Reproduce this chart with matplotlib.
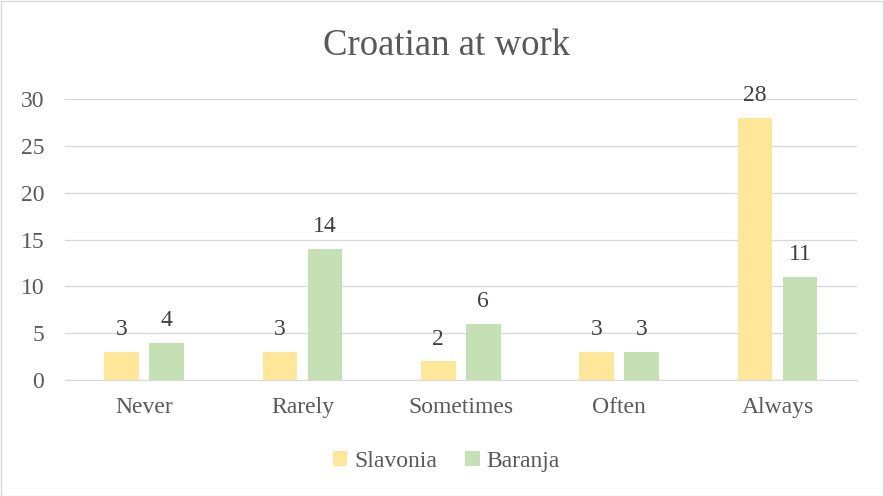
#!/usr/bin/env python3
"""Grouped bar chart: Croatian at work."""

import matplotlib
matplotlib.use("Agg")
import matplotlib.pyplot as plt
import numpy as np

categories = ["Never", "Rarely", "Sometimes", "Often", "Always"]
slavonia = [3, 3, 2, 3, 28]
baranja = [4, 14, 6, 3, 11]
yticks = [0, 5, 10, 15, 20, 25, 30]

YELLOW = "#FFE699"
GREEN = "#C5E0B4"
TEXT = "#595959"
LABEL = "#404040"
GRID = "#D9D9D9"

plt.rcParams["font.family"] = "serif"
plt.rcParams["font.serif"] = ["Liberation Serif", "Times New Roman", "DejaVu Serif"]

fig = plt.figure(figsize=(8.84, 4.96), dpi=100)
fig.patches.append(plt.Rectangle((0.001, 0.001), 0.998, 0.997, transform=fig.transFigure,
                                 fill=False, edgecolor="#D9D9D9", linewidth=1))
ax = fig.add_axes([0.0735, 0.234, 0.8955, 0.566])

x = np.arange(len(categories))
width = 0.22
off = 0.142
b1 = ax.bar(x - off, slavonia, width, color=YELLOW, label="Slavonia", zorder=3)
b2 = ax.bar(x + off, baranja, width, color=GREEN, label="Baranja", zorder=3)

# labels sit ~17 px above the bar top (baseline)
for bars in (b1, b2):
    for rect in bars:
        h = rect.get_height()
        ax.annotate(f"{h:g}", (rect.get_x() + rect.get_width() / 2, h),
                    xytext=(0, 12), textcoords="offset points",
                    ha="center", va="baseline", fontsize=17, color=LABEL)

ax.set_xlim(-0.5, len(categories) - 0.5)
ax.set_ylim(0, 30)
ax.set_yticks(yticks)
ax.set_xticks(x)
ax.set_xticklabels(categories)
ax.tick_params(axis="both", length=0, labelsize=17, labelcolor=TEXT)
ax.tick_params(axis="y", pad=15)
ax.tick_params(axis="x", pad=12)
ax.yaxis.grid(True, color=GRID, linewidth=1, zorder=0)
for side in ("top", "right", "left"):
    ax.spines[side].set_visible(False)
ax.spines["bottom"].set_color(GRID)

fig.text(0.505, 0.908, "Croatian at work", ha="center", va="center",
         fontsize=26.5, color=TEXT)

fig.legend(handles=[b1, b2], loc="center", bbox_to_anchor=(0.505, 0.07), ncol=2,
           frameon=False, fontsize=17, labelcolor=TEXT, handlelength=0.6,
           handleheight=0.6, handletextpad=0.3, columnspacing=1.2)

fig.savefig("out.png", dpi=100)
